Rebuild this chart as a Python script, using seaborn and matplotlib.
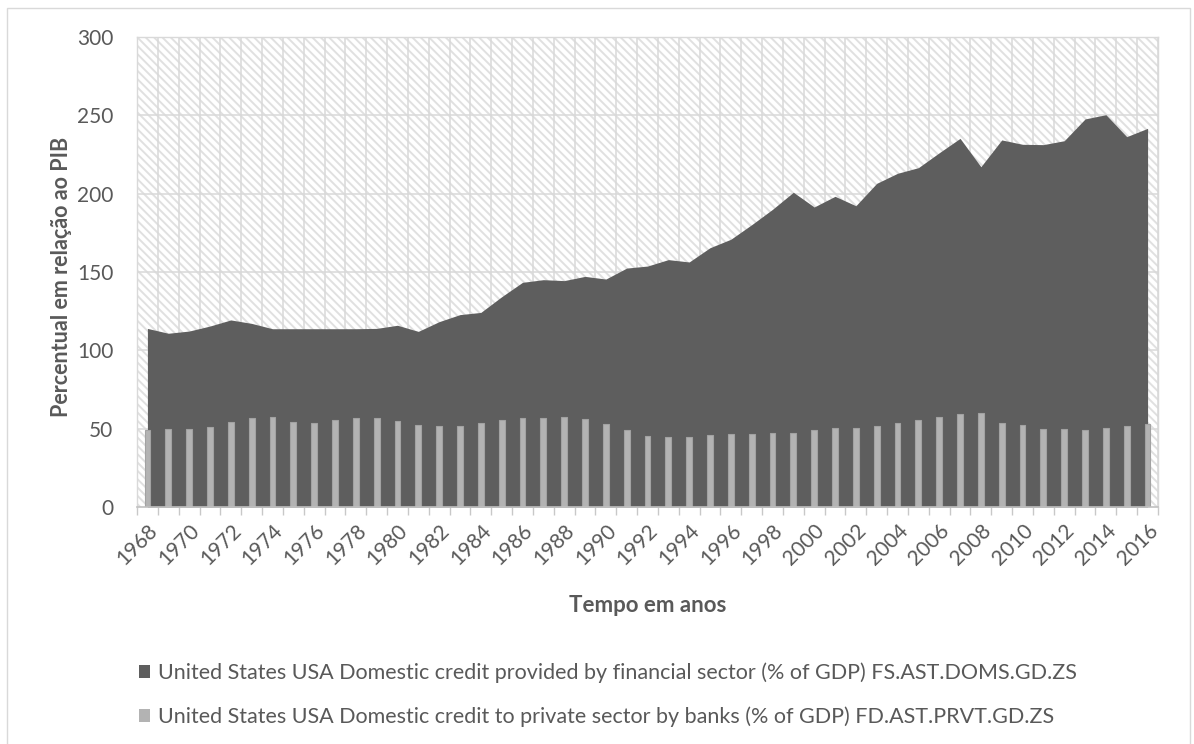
import matplotlib
matplotlib.use("Agg")
import matplotlib.pyplot as plt
from matplotlib.patches import Rectangle, Patch
import numpy as np
import pandas as pd
import seaborn as sns

# Years on the horizontal axis
years = list(range(1968, 2017))

# Domestic credit provided by financial sector (% of GDP)
financial_sector = [
    114.0, 110.9, 112.3, 115.5, 119.4, 117.2, 113.8, 113.8, 113.8, 113.8,
    113.8, 114.0, 116.0, 112.1, 118.3, 122.8, 124.2, 134.2, 143.4, 145.1,
    144.5, 147.2, 145.5, 152.5, 153.8, 157.9, 156.4, 165.5, 170.9, 180.2,
    190.0, 200.9, 191.5, 198.3, 192.3, 206.6, 213.0, 216.6, 226.1, 235.3,
    217.2, 234.3, 231.5, 231.3, 233.8, 247.7, 250.4, 236.4, 241.7,
]

# Domestic credit to private sector by banks (% of GDP)
private_banks = [
    49.1, 49.8, 49.6, 50.9, 54.0, 56.6, 57.4, 54.3, 53.8, 55.7,
    56.6, 56.6, 55.1, 52.3, 51.5, 51.7, 53.6, 55.3, 56.8, 56.8,
    57.4, 56.2, 52.8, 49.1, 45.6, 44.5, 44.7, 46.0, 46.4, 46.6,
    47.2, 47.4, 49.1, 50.2, 50.4, 51.5, 53.4, 55.3, 57.2, 59.6,
    60.0, 53.4, 52.1, 49.8, 49.8, 49.1, 50.4, 51.9, 53.2,
]

series_labels = [
    "United States USA Domestic credit provided by financial sector (% of GDP) FS.AST.DOMS.GD.ZS",
    "United States USA Domestic credit to private sector by banks (% of GDP) FD.AST.PRVT.GD.ZS",
]
y_ticks = [0, 50, 100, 150, 200, 250, 300]

df = pd.DataFrame({"year": years, "financial": financial_sector, "banks": private_banks})

sns.set_theme(style="white")
plt.rcParams["font.family"] = ["Lato", "DejaVu Sans"]
plt.rcParams["hatch.linewidth"] = 1.4

TXT = "#595959"
GRID = "#d9d9d9"
AREA = "#5e5e5e"
BAR = "#b3b3b3"

W, H = 1194, 744
fig = plt.figure(figsize=(W / 100, H / 100), dpi=100)
fig.patch.set_facecolor("white")

# chart outer frame
fig.add_artist(Rectangle((7 / W, -0.01), (1190 - 7) / W, (H - 8) / H + 0.01,
                         transform=fig.transFigure, fill=False,
                         edgecolor=GRID, lw=1.0))

left, right, top, bottom = 137, 1158, 37, 507
ax = fig.add_axes([left / W, (H - bottom) / H, (right - left) / W, (bottom - top) / H])
ax.set_facecolor("white")

x = np.arange(len(years))

# finely hatched plot background
ax.add_patch(Rectangle((0, 0), 1, 1, transform=ax.transAxes, facecolor="white",
                       edgecolor="#e0e0e0", hatch="\\\\\\\\", lw=0, zorder=0))

# area for the financial sector series
ax.fill_between(x, 0, df["financial"], color=AREA, lw=0, zorder=2)

# bars for the private-sector-by-banks series
sns.barplot(data=df, x="year", y="banks", color=BAR, saturation=1, width=0.28,
            edgecolor="#a2a2a2", linewidth=0.8, ax=ax, zorder=3)

ax.set_xlim(-0.5, len(years) - 0.5)
ax.set_ylim(0, 300)

# gridlines
for yv in y_ticks[1:]:
    ax.axhline(yv, color=GRID, lw=1.1, zorder=1)
for b in np.arange(-0.5, len(years) + 0.5, 1.0):
    ax.axvline(b, color=GRID, lw=1.1, zorder=1)

ax.set_yticks(y_ticks)
ax.set_yticklabels([str(v) for v in y_ticks])
ax.tick_params(axis="y", length=0, pad=17, labelsize=15, labelcolor=TXT)

ax.set_xticks(x[::2])
ax.set_xticklabels([str(y) for y in years[::2]], rotation=45, ha="right",
                   rotation_mode="anchor")
ax.set_xticks(np.arange(-0.5, len(years) + 0.5, 1.0), minor=True)
ax.tick_params(axis="x", which="major", length=0, pad=10, labelsize=15, labelcolor=TXT)
ax.tick_params(axis="x", which="minor", length=6, width=1, color="#c8c8c8",
               direction="out", bottom=True)
ax.set_xlabel("")
ax.set_ylabel("")

for s in ["top", "right", "left"]:
    ax.spines[s].set_color(GRID)
    ax.spines[s].set_linewidth(1.0)
ax.spines["bottom"].set_color("#c0c0c0")
ax.spines["bottom"].set_linewidth(1.2)
ax.spines["bottom"].set_zorder(4)

fig.text(62 / W, 1 - 277 / H, "Percentual em relação ao PIB", rotation=90,
         ha="center", va="center", fontsize=15.5, fontweight="bold", color=TXT)
fig.text(648 / W, 1 - 605 / H, "Tempo em anos", ha="center", va="center",
         fontsize=16, fontweight="bold", color=TXT)

handles = [Patch(facecolor=AREA, edgecolor="none"), Patch(facecolor=BAR, edgecolor="none")]
fig.legend(handles, series_labels, loc="upper left",
           bbox_to_anchor=(130 / W, 1 - 654 / H), frameon=False,
           fontsize=15.5, labelcolor=TXT, handlelength=0.55, handleheight=0.55,
           handletextpad=0.35, labelspacing=1.1, borderaxespad=0)

fig.savefig("out.png", dpi=100)
